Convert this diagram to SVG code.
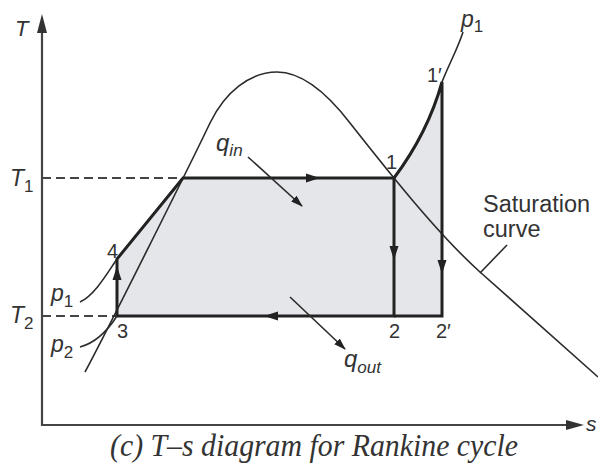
<svg xmlns="http://www.w3.org/2000/svg" width="598" height="473" viewBox="0 0 598 473">
<style>
.thin{fill:none;stroke:#2b2b2b;stroke-width:1.6}
.thick{fill:none;stroke:#222;stroke-width:3}
.axis{fill:none;stroke:#444;stroke-width:2.2}
.dash{fill:none;stroke:#444;stroke-width:1.8;stroke-dasharray:9 5}
.lbl{font-family:"Liberation Sans",Arial,sans-serif;fill:#333}
.it{font-style:italic}
.ah{fill:#222}
</style>
<defs>
<marker id="arr" viewBox="0 0 12 8" refX="11" refY="4" markerWidth="12" markerHeight="8" markerUnits="userSpaceOnUse" orient="auto">
<path d="M0,0 L12,4 L0,8 Z" fill="#222"/>
</marker>
</defs>
<rect width="598" height="473" fill="#fff"/>
<g id="shaded-area">
<path d="M117 316 L117 259 L183 178 L394 178 C415 150 432 118 442 82 L442 316 Z" fill="#e5e6e9"/>
</g>
<g id="axes">
<path class="axis" d="M42 30 L42 425 L568 425"/>
<path d="M42 14 L37 33 L47 33 Z" fill="#333"/>
<path d="M584 425 L566 420 L566 430 Z" fill="#333"/>
<text class="lbl it" x="15" y="36" font-size="22">T</text>
<text class="lbl it" x="586" y="431" font-size="21">s</text>
</g>
<g id="guides">
<path class="dash" d="M42 178 L183 178"/>
<path class="dash" d="M42 316 L117 316"/>
<text class="lbl it" x="10" y="186" font-size="23">T<tspan font-style="normal" font-size="17" dy="6">1</tspan></text>
<text class="lbl it" x="10" y="323" font-size="23">T<tspan font-style="normal" font-size="17" dy="6">2</tspan></text>
</g>
<g id="saturation-curve">
<path class="thin" d="M85 372 C105 335 190 165 210 123 C225 92 250 72 277 72 C305 72 330 97 350 123 C365 142 380 161 394 178 C420 210 450 245 480 272 C520 308 560 343 598 377"/>
<path class="thin" d="M507 245 L480 273"/>
<text class="lbl" x="483" y="212" font-size="23.5">Saturation</text>
<text class="lbl" x="483" y="237" font-size="23.5">curve</text>
</g>
<g id="isobars">
<path class="thin" d="M80 302 C95 295 108 272 117 259"/>
<path class="thin" d="M80 347 C95 343 108 330 117 316"/>
<path class="thin" d="M442 82 C450 62 458 48 463 32"/>
<text class="lbl it" x="51" y="301" font-size="23">p<tspan font-style="normal" font-size="17" dy="6">1</tspan></text>
<text class="lbl it" x="51" y="352" font-size="23">p<tspan font-style="normal" font-size="17" dy="6">2</tspan></text>
<text class="lbl it" x="461" y="27" font-size="23">p<tspan font-style="normal" font-size="17" dy="5">1</tspan></text>
</g>
<g id="cycle">
<path class="thick" d="M117 316 L117 259 L183 178 L394 178 L394 316 L117 316"/>
<path class="thick" d="M394 178 C415 150 432 118 442 82 L442 316 L394 316"/>
<path class="ah" d="M320 178 L306 173.5 L306 182.5 Z"/>
<path class="ah" d="M394 260 L389.5 246 L398.5 246 Z"/>
<path class="ah" d="M442 274 L437.5 260 L446.5 260 Z"/>
<path class="ah" d="M264 316 L278 311.5 L278 320.5 Z"/>
<path class="ah" d="M117 266 L112.5 280 L121.5 280 Z"/>
</g>
<g id="point-labels">
<text class="lbl" x="107" y="258" font-size="20">4</text>
<text class="lbl" x="117" y="338" font-size="20">3</text>
<text class="lbl" x="386" y="169" font-size="20">1</text>
<text class="lbl" x="427" y="82" font-size="20">1′</text>
<text class="lbl" x="389" y="338" font-size="20">2</text>
<text class="lbl" x="436" y="338" font-size="20">2′</text>
</g>
<g id="heat-flows">
<path class="thin" d="M248 157 L302 206" marker-end="url(#arr)"/>
<path class="thin" d="M290 297 L345 349" marker-end="url(#arr)"/>
<text class="lbl it" x="216" y="151" font-size="24">q<tspan font-size="17" dy="5">in</tspan></text>
<text class="lbl it" x="344" y="367" font-size="24">q<tspan font-size="17" dy="6">out</tspan></text>
</g>
<g id="caption">
<text x="110" y="456" font-family="Liberation Serif,'Times New Roman',serif" font-style="italic" font-size="31" fill="#333" textLength="408" lengthAdjust="spacingAndGlyphs">(c) T–s diagram for Rankine cycle</text>
</g>
</svg>
